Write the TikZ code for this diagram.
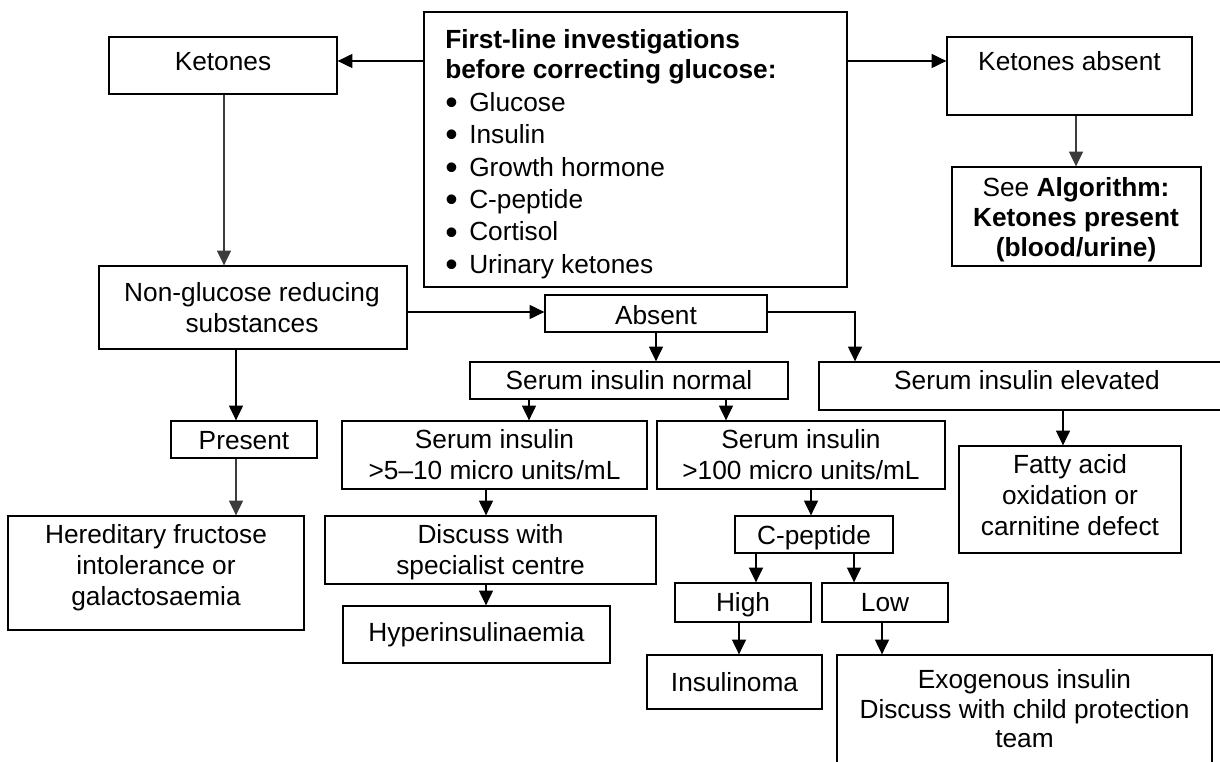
\documentclass[tikz,border=0pt]{standalone}
\usepackage{fontspec}
\setmainfont{Liberation Sans}
\usetikzlibrary{arrows.meta}

\definecolor{arrowgrey}{HTML}{3C3C3C}

% line strut: keeps every text line the same height and depth
\newcommand{\ls}{\rule[-0.3em]{0pt}{1.15em}}
% enlarged bullet with a fixed indent
\newcommand{\bul}{\makebox[18pt][l]{\raisebox{-0.12em}{\scalebox{1.35}{\textbullet}}}}
% \flowbox[options]{name}{x1}{y1}{x2}{y2}: empty framed box between two corners
\newcommand{\flowbox}[6][]{%
  \node[box,#1,minimum width={(#5-#3)*0.75pt},minimum height={(#6-#4)*0.75pt}]
    (#2) at ({(#3+#5)/2},{(#4+#6)/2}) {};}

\begin{document}
\begin{tikzpicture}[
  x=0.75pt, y=-0.75pt,
  box/.style={draw=black, line width=1pt, inner sep=0pt},
  txt/.style={inner sep=0pt, align=center, font=\fontsize{19.7}{23.25}\selectfont},
  arr/.style={line width=0.8pt, draw=black, -{Triangle[length=11pt,width=10.5pt]}},
  garr/.style={arr, draw=arrowgrey, -{Triangle[length=11pt,width=10.5pt,fill=arrowgrey]}},
]
\useasboundingbox (0,0) rectangle (1220,762);
\clip (0,0) rectangle (1220,762);
\fill[white] (0,0) rectangle (1220,762);

% ---- boxes ----
\flowbox{ketones}{109}{37}{337}{94}
\flowbox{first}{424}{12}{847}{287}
\flowbox{kabsent}{947}{37}{1192}{115}
\flowbox{seealgo}{952}{167}{1201}{266}
\flowbox{nonglu}{99}{266}{407}{349}
\flowbox{absent}{545}{295}{767}{332}
\flowbox{normal}{470}{362}{788}{399}
\flowbox{elevated}{819}{362}{1235}{410}
\flowbox{present}{171}{421}{317}{458}
\flowbox{insfive}{342}{421}{647}{489}
\flowbox{inshundred}{657}{421}{945}{489}
\flowbox{fatty}{959}{446}{1181}{553}
\flowbox{hered}{8}{516}{304}{630}
\flowbox{discuss}{325}{516}{656}{584}
\flowbox{cpep}{735}{516}{893}{553}
\flowbox{hyper}{343}{606}{610}{663}
\flowbox{high}{675}{583}{811}{622}
\flowbox{low}{822}{583}{948}{622}
\flowbox{insulinoma}{647}{655}{822}{709}
\flowbox{exo}{837}{655}{1212}{790}

% ---- texts ----
\node[txt, align=left, anchor=north west, font=\fontsize{19.7}{24.3}\selectfont]
  (first-t) at (445,25.6)
  {\textbf{\ls First-line investigations}\\[-1.2pt]
   \textbf{\ls before correcting glucose:}\\
   \ls\bul Glucose\\
   \ls\bul Insulin\\
   \ls\bul Growth hormone\\
   \ls\bul C-peptide\\
   \ls\bul Cortisol\\
   \ls\bul Urinary ketones};
\node[txt] (ketones-t) at (223,63.5) {\ls Ketones};
\node[txt] (kabsent-t) at (1069.5,63.5) {\ls Ketones absent};
\node[txt] (seealgo-t) at (1076,219.5)
  {\ls See \textbf{Algorithm:}\\[-0.6pt]\ls\textbf{Ketones present}\\[-0.6pt]\ls\textbf{(blood/urine)}};
\node[txt] (nonglu-t) at (252,309.5) {\ls Non-glucose reducing\\\ls substances};
\node[txt] (absent-t) at (656,317) {\ls Absent};
\node[txt] (normal-t) at (629,382.5) {\ls Serum insulin normal};
\node[txt] (elevated-t) at (1027,382.5) {\ls Serum insulin elevated};
\node[txt] (present-t) at (244,442) {\ls Present};
\node[txt] (insfive-t) at (494.5,456.5) {\ls Serum insulin\\\ls >5–10 micro units/mL};
\node[txt] (inshundred-t) at (801,456.5) {\ls Serum insulin\\\ls >100 micro units/mL};
\node[txt] (fatty-t) at (1070,497) {\ls Fatty acid\\\ls oxidation or\\\ls carnitine defect};
\node[txt] (hered-t) at (156,567) {\ls Hereditary fructose\\\ls intolerance or\\\ls galactosaemia};
\node[txt] (discuss-t) at (490.5,552) {\ls Discuss with\\\ls specialist centre};
\node[txt] (cpep-t) at (814,537.5) {\ls C-peptide};
\node[txt] (hyper-t) at (476.5,634.5) {\ls Hyperinsulinaemia};
\node[txt] (high-t) at (743,604.5) {\ls High};
\node[txt] (low-t) at (885,604.5) {\ls Low};
\node[txt] (insulinoma-t) at (734.5,684) {\ls Insulinoma};
\node[txt] (exo-t) at (1024.5,711)
  {\ls Exogenous insulin\\[-1pt]\ls Discuss with child protection\\[-1pt]\ls team};

% ---- connector guides ----
\coordinate (rowtop) at (0,61);
\coordinate (colA) at (236,0);
\coordinate (colB) at (855,0);
\coordinate (colC) at (529,0);
\coordinate (colD) at (726,0);
\coordinate (colE) at (486,0);
\coordinate (colF) at (811,0);
\coordinate (colG) at (1063,0);
\coordinate (colH) at (756,0);
\coordinate (colI) at (854,0);
\coordinate (colJ) at (739,0);
\coordinate (colK) at (882,0);
\coordinate (colL) at (224,0);
\coordinate (colM) at (1076,0);
\coordinate (rowabs) at (0,312);

% ---- connectors ----
\draw[arr] (first.west |- rowtop) -- (ketones.east |- rowtop);
\draw[arr] (first.east |- rowtop) -- (kabsent.west |- rowtop);
\draw[garr] (ketones.south -| colL) -- (nonglu.north -| colL);
\draw[garr] (kabsent.south -| colM) -- (seealgo.north -| colM);
\draw[arr] (nonglu.east |- rowabs) -- (absent.west |- rowabs);
\draw[arr] (nonglu.south -| colA) -- (present.north -| colA);
\draw[garr] (present.south -| colA) -- (hered.north -| colA);
\draw[arr] (absent.south) -- (absent.south |- normal.north);
\draw[arr] (absent.east |- rowabs) -| (elevated.north -| colB);
\draw[arr] (normal.south -| colC) -- (insfive.north -| colC);
\draw[arr] (normal.south -| colD) -- (inshundred.north -| colD);
\draw[arr] (insfive.south -| colE) -- (discuss.north -| colE);
\draw[arr] (inshundred.south -| colF) -- (cpep.north -| colF);
\draw[arr] (elevated.south -| colG) -- (fatty.north -| colG);
\draw[arr] (discuss.south -| colE) -- (hyper.north -| colE);
\draw[arr] (cpep.south -| colH) -- (high.north -| colH);
\draw[arr] (cpep.south -| colI) -- (low.north -| colI);
\draw[arr] (high.south -| colJ) -- (insulinoma.north -| colJ);
\draw[arr] (low.south -| colK) -- (exo.north -| colK);
\end{tikzpicture}
\end{document}
